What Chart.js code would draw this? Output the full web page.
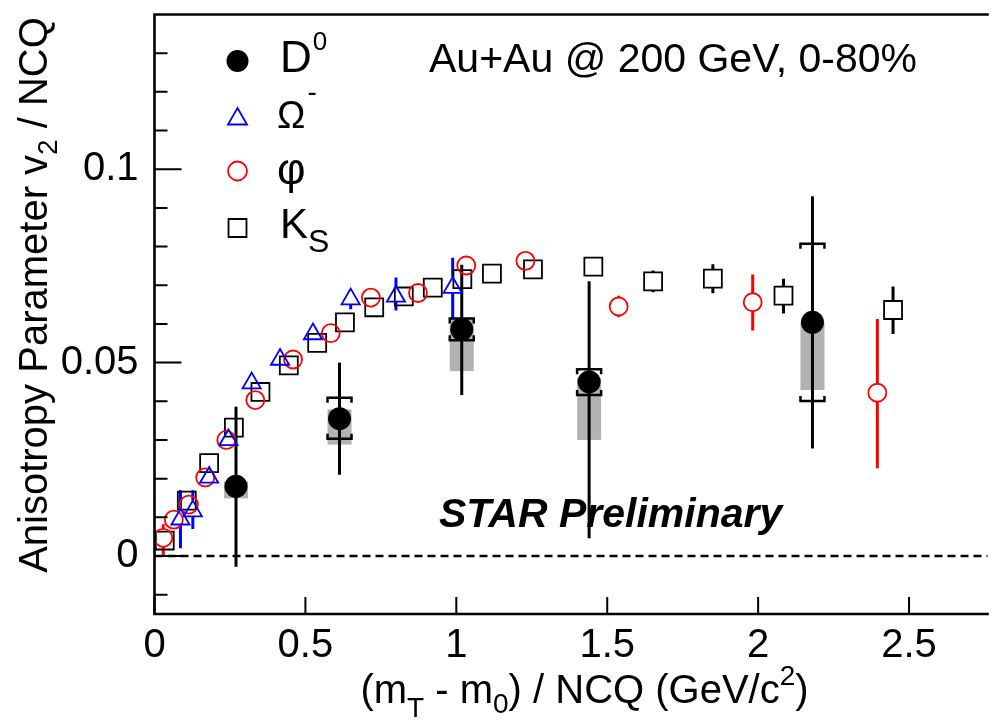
<!DOCTYPE html>
<html>
<head>
<meta charset="utf-8">
<script src="https://cdn.jsdelivr.net/npm/chart.js@4.4.0/dist/chart.umd.min.js"></script>
<style>
html,body{margin:0;padding:0;background:#fff;}
#c{display:block;}
</style>
</head>
<body>
<canvas id="c" width="999" height="721"></canvas>
<script>
// ---------------- data ----------------
// D0 (filled black circles): value, stat. error bounds, grey box bounds, bracket bounds
const d0X      = [0.27, 0.613, 1.018, 1.44, 2.18];
const d0Y      = [0.018, 0.0355, 0.0586, 0.045, 0.0604];
const d0StatHi = [0.0386, 0.050, 0.0753, 0.071, 0.093];
const d0StatLo = [-0.0028, 0.021, 0.0416, 0.0046, 0.0278];
const d0SysHi  = [0.0193, 0.0379, 0.0615, 0.046, 0.0604];
const d0SysLo  = [0.0149, 0.0288, 0.0478, 0.030, 0.0429];
const d0NfHi   = [null, 0.0409, 0.0614, 0.0483, 0.0807];
const d0NfLo   = [null, 0.0303, 0.0558, 0.0416, 0.0401];

// Omega- (open blue triangles)
const omX  = [0.086, 0.127, 0.181, 0.245, 0.322, 0.416, 0.525, 0.650, 0.80, 0.988];
const omY  = [0.0095, 0.0116, 0.0203, 0.030, 0.0447, 0.0508, 0.0574, 0.0664, 0.0671, 0.0694];
const omHi = [0.017, 0.017, 0.0213, 0.031, 0.0457, 0.052, 0.0585, 0.068, 0.072, 0.0771];
const omLo = [0.002, 0.007, 0.0193, 0.029, 0.0437, 0.0496, 0.0563, 0.0638, 0.0635, 0.0613];

// phi (open red circles)
const phiX  = [0.029, 0.064, 0.114, 0.168, 0.238, 0.334, 0.459, 0.584, 0.717, 0.873, 1.033, 1.229, 1.538, 1.982, 2.395];
const phiY  = [0.0047, 0.0094, 0.0133, 0.0203, 0.030, 0.0403, 0.0508, 0.0576, 0.0668, 0.068, 0.0751, 0.0763, 0.0645, 0.0656, 0.0422];
const phiHi = [0.0082, 0.0100, 0.0140, 0.0210, 0.0307, 0.0410, 0.0515, 0.0583, 0.0675, 0.0688, 0.0760, 0.0772, 0.0673, 0.0728, 0.0613];
const phiLo = [0.0000, 0.0088, 0.0126, 0.0196, 0.0293, 0.0396, 0.0501, 0.0569, 0.0661, 0.0672, 0.0742, 0.0754, 0.0617, 0.0583, 0.0227];

// K0s (open black squares)
const ksX  = [0.034, 0.107, 0.181, 0.263, 0.351, 0.445, 0.539, 0.631, 0.728, 0.826, 0.922, 1.020, 1.118, 1.254, 1.454, 1.652, 1.850, 2.084, 2.447];
const ksY  = [0.004, 0.0143, 0.024, 0.0332, 0.0424, 0.0493, 0.0551, 0.0604, 0.0643, 0.0671, 0.0694, 0.0716, 0.073, 0.0741, 0.0748, 0.071, 0.0717, 0.0673, 0.0636];
const ksHi = [0.005, 0.0153, 0.025, 0.0342, 0.0434, 0.0503, 0.0561, 0.0614, 0.0653, 0.0681, 0.0704, 0.0726, 0.074, 0.0751, 0.0758, 0.0738, 0.0754, 0.0717, 0.0697];
const ksLo = [0.003, 0.0133, 0.023, 0.0322, 0.0414, 0.0483, 0.0541, 0.0594, 0.0633, 0.0661, 0.0684, 0.0706, 0.072, 0.0731, 0.0738, 0.0682, 0.0679, 0.0627, 0.0574];

// axis ticks
const xMajorTicks = [0, 0.5, 1, 1.5, 2, 2.5];
const xTickLabels = ['0', '0.5', '1', '1.5', '2', '2.5'];
const yMajorTicks = [0, 0.05, 0.1];
const yTickLabels = ['0', '0.05', '0.1'];
const yMinorTicks = [-0.01, 0.01, 0.02, 0.03, 0.04, 0.06, 0.07, 0.08, 0.09, 0.11, 0.12, 0.13];

// ---------------- styling ----------------
const FONT = '"Liberation Sans", Arial, Helvetica, sans-serif';
const BLUE = '#0000ff', RED = '#ff0000', GREY = '#b2b2b2';
const R_D0 = 11.5, R_OM = 10.5, R_PHI = 9, R_KS = 12.7;

function pts(xs, ys) { return xs.map((x, i) => ({x: x, y: ys[i]})); }

function gaps(style, r) {
  if (style === 'triangle') return [r, r * 0.5];
  if (style === 'rect') return [r * Math.SQRT1_2, r * Math.SQRT1_2];
  return [r, r];
}

function drawErr(chart, xs, ys, hi, lo, color, style, r, lw) {
  const ctx = chart.ctx, sx = chart.scales.x, sy = chart.scales.y;
  const g = gaps(style, r);
  ctx.save();
  ctx.strokeStyle = color; ctx.lineWidth = lw; ctx.lineCap = 'butt';
  xs.forEach((x, i) => {
    const px = sx.getPixelForValue(x), pc = sy.getPixelForValue(ys[i]);
    const pt = sy.getPixelForValue(hi[i]), pb = sy.getPixelForValue(lo[i]);
    ctx.beginPath();
    if (pt < pc - g[0]) { ctx.moveTo(px, pt); ctx.lineTo(px, pc - g[0]); }
    if (pb > pc + g[1]) { ctx.moveTo(px, pc + g[1]); ctx.lineTo(px, pb); }
    ctx.stroke();
  });
  ctx.restore();
}

function drawMarker(ctx, style, x, y, r, color, filled, lw) {
  ctx.save();
  ctx.beginPath();
  if (style === 'circle') ctx.arc(x, y, r, 0, Math.PI * 2);
  else if (style === 'triangle') {
    ctx.moveTo(x, y - r); ctx.lineTo(x + 0.866 * r, y + 0.5 * r); ctx.lineTo(x - 0.866 * r, y + 0.5 * r); ctx.closePath();
  } else if (style === 'rect') {
    const s = r * Math.SQRT1_2; ctx.rect(x - s, y - s, 2 * s, 2 * s);
  }
  if (filled) { ctx.fillStyle = color; ctx.fill(); }
  else { ctx.strokeStyle = color; ctx.lineWidth = lw; ctx.stroke(); }
  ctx.restore();
}

function rich(ctx, x, y, segs, align) {
  let total = 0;
  segs.forEach(s => {
    ctx.font = (s.w || '') + ' ' + s.size + 'px ' + FONT;
    s.width = ctx.measureText(s.t).width; total += s.width + (s.dx || 0);
  });
  let cx = align === 'center' ? x - total / 2 : x;
  segs.forEach(s => {
    ctx.font = (s.w || '') + ' ' + s.size + 'px ' + FONT;
    ctx.fillText(s.t, cx + (s.dx || 0), y + (s.dy || 0));
    cx += s.width + (s.dx || 0);
  });
}

const decor = {
  id: 'decor',
  beforeDatasetsDraw(chart) {
    const ctx = chart.ctx, sx = chart.scales.x, sy = chart.scales.y, a = chart.chartArea;
    // dashed zero line
    ctx.save();
    ctx.strokeStyle = '#000'; ctx.lineWidth = 2.4; ctx.setLineDash([8, 5]);
    ctx.beginPath(); ctx.moveTo(a.left, sy.getPixelForValue(0)); ctx.lineTo(a.right + 3, sy.getPixelForValue(0)); ctx.stroke();
    ctx.restore();
    // grey systematic boxes for D0
    ctx.save(); ctx.fillStyle = GREY;
    d0X.forEach((x, i) => {
      const px = sx.getPixelForValue(x), t = sy.getPixelForValue(d0SysHi[i]), b = sy.getPixelForValue(d0SysLo[i]);
      ctx.fillRect(px - 12, t, 24, b - t);
    });
    ctx.restore();
    // statistical error bars
    drawErr(chart, ksX, ksY, ksHi, ksLo, '#000', 'rect', R_KS, 3);
    drawErr(chart, phiX, phiY, phiHi, phiLo, RED, 'circle', R_PHI, 3);
    drawErr(chart, omX, omY, omHi, omLo, BLUE, 'triangle', R_OM, 3);
    // D0 full bar (filled marker on top)
    ctx.save(); ctx.strokeStyle = '#000'; ctx.lineWidth = 3;
    d0X.forEach((x, i) => {
      const px = sx.getPixelForValue(x);
      ctx.beginPath(); ctx.moveTo(px, sy.getPixelForValue(d0StatHi[i])); ctx.lineTo(px, sy.getPixelForValue(d0StatLo[i])); ctx.stroke();
    });
    // brackets
    ctx.lineWidth = 2.5;
    d0X.forEach((x, i) => {
      if (d0NfHi[i] === null) return;
      const px = sx.getPixelForValue(x), t = sy.getPixelForValue(d0NfHi[i]), b = sy.getPixelForValue(d0NfLo[i]);
      ctx.beginPath();
      ctx.moveTo(px - 12, t + 5); ctx.lineTo(px - 12, t); ctx.lineTo(px + 12, t); ctx.lineTo(px + 12, t + 5);
      ctx.moveTo(px - 12, b - 5); ctx.lineTo(px - 12, b); ctx.lineTo(px + 12, b); ctx.lineTo(px + 12, b - 5);
      ctx.stroke();
    });
    ctx.restore();
  },
  afterDatasetsDraw(chart) {
    const ctx = chart.ctx, sx = chart.scales.x, sy = chart.scales.y, a = chart.chartArea;
    ctx.save();
    ctx.strokeStyle = '#000'; ctx.lineWidth = 2.6; ctx.lineCap = 'square';
    ctx.beginPath();
    ctx.moveTo(a.left, a.top); ctx.lineTo(a.left, a.bottom); ctx.lineTo(a.right + 3, a.bottom);
    ctx.moveTo(a.left, a.top); ctx.lineTo(a.right + 3, a.top);
    ctx.stroke();
    ctx.lineWidth = 2; ctx.lineCap = 'butt';
    ctx.beginPath();
    xMajorTicks.forEach(v => { const p = sx.getPixelForValue(v); ctx.moveTo(p, a.bottom); ctx.lineTo(p, a.bottom - 17); });
    yMajorTicks.forEach(v => { const p = sy.getPixelForValue(v); ctx.moveTo(a.left, p); ctx.lineTo(a.left + 27, p); });
    yMinorTicks.forEach(v => { const p = sy.getPixelForValue(v); ctx.moveTo(a.left, p); ctx.lineTo(a.left + 13, p); });
    ctx.stroke();
    ctx.restore();
  },
  afterDraw(chart) {
    const ctx = chart.ctx, a = chart.chartArea;
    ctx.save();
    ctx.fillStyle = '#000'; ctx.textBaseline = 'alphabetic';
    // axis titles
    rich(ctx, (a.left + a.right) / 2 + 15, 703, [
      {t: '(m', size: 40}, {t: 'T', size: 28, dy: 14}, {t: ' - m', size: 40}, {t: '0', size: 28, dy: 10},
      {t: ') / NCQ (GeV/c', size: 40}, {t: '2', size: 28, dy: -18}, {t: ')', size: 40}
    ], 'center');
    ctx.save();
    ctx.translate(47, 295); ctx.rotate(-Math.PI / 2);
    rich(ctx, 0, 0, [
      {t: 'Anisotropy Parameter v', size: 40}, {t: '2', size: 28, dy: 10}, {t: ' / NCQ', size: 40}
    ], 'center');
    ctx.restore();
    // annotations
    ctx.font = '41px ' + FONT;
    ctx.fillText('Au+Au @ 200 GeV, 0-80%', 429, 72);
    ctx.font = 'italic bold 41px ' + FONT;
    ctx.fillText('STAR Preliminary', 439, 527);
    // legend
    const lx = a.left + 83;
    drawMarker(ctx, 'circle', lx, 61, 11, '#000', true, 0);
    drawMarker(ctx, 'triangle', lx, 119, 11, BLUE, false, 1.8);
    drawMarker(ctx, 'circle', lx, 171, 9.5, RED, false, 1.8);
    drawMarker(ctx, 'rect', lx, 228, 12.7, '#000', false, 1.8);
    rich(ctx, 280, 72, [{t: 'D', size: 44}, {t: '0', size: 26, dy: -22, dx: 1}]);
    rich(ctx, 277, 128, [{t: 'Ω', size: 38}, {t: '-', size: 28, dy: -27, dx: 2}]);
    rich(ctx, 277, 184, [{t: 'φ', size: 44}]);
    rich(ctx, 280, 238, [{t: 'K', size: 42}, {t: 'S', size: 32, dy: 14}]);
    ctx.restore();
  }
};

new Chart(document.getElementById('c'), {
  type: 'scatter',
  data: {
    datasets: [
      {label: 'D0', data: pts(d0X, d0Y), pointStyle: 'circle', pointRadius: R_D0, backgroundColor: '#000', borderColor: '#000', borderWidth: 0},
      {label: 'Omega-', data: pts(omX, omY), pointStyle: 'triangle', pointRadius: R_OM, backgroundColor: 'rgba(0,0,0,0)', borderColor: BLUE, borderWidth: 1.8},
      {label: 'phi', data: pts(phiX, phiY), pointStyle: 'circle', pointRadius: R_PHI, backgroundColor: 'rgba(0,0,0,0)', borderColor: RED, borderWidth: 1.8},
      {label: 'KS', data: pts(ksX, ksY), pointStyle: 'rect', pointRadius: R_KS, backgroundColor: 'rgba(0,0,0,0)', borderColor: '#000', borderWidth: 1.8}
    ]
  },
  options: {
    responsive: false,
    devicePixelRatio: 1,
    animation: false,
    events: [],
    layout: {padding: {top: 10, right: 3, left: 0, bottom: 0}},
    plugins: {legend: {display: false}, tooltip: {enabled: false}},
    scales: {
      x: {
        type: 'linear', min: 0, max: 2.75,
        grid: {display: false}, border: {display: false},
        afterBuildTicks: s => { s.ticks = xMajorTicks.map(v => ({value: v})); },
        ticks: {
          font: {family: FONT, size: 40}, color: '#000', padding: 0, maxRotation: 0, autoSkip: false,
          callback: v => { const i = xMajorTicks.indexOf(v); return i >= 0 ? xTickLabels[i] : ''; }
        },
        afterFit: s => { s.height = 107; s.paddingLeft = 0; s.paddingRight = 0; }
      },
      y: {
        type: 'linear', min: -0.015, max: 0.14,
        grid: {display: false}, border: {display: false},
        afterBuildTicks: s => { s.ticks = yMajorTicks.map(v => ({value: v})); },
        ticks: {
          font: {family: FONT, size: 40}, color: '#000', padding: 8, autoSkip: false,
          callback: v => { const i = yMajorTicks.indexOf(v); return i >= 0 ? yTickLabels[i] : ''; }
        },
        afterFit: s => { s.width = 154.5; s.paddingTop = 0; s.paddingBottom = 0; }
      }
    }
  },
  plugins: [decor]
});
</script>
</body>
</html>
